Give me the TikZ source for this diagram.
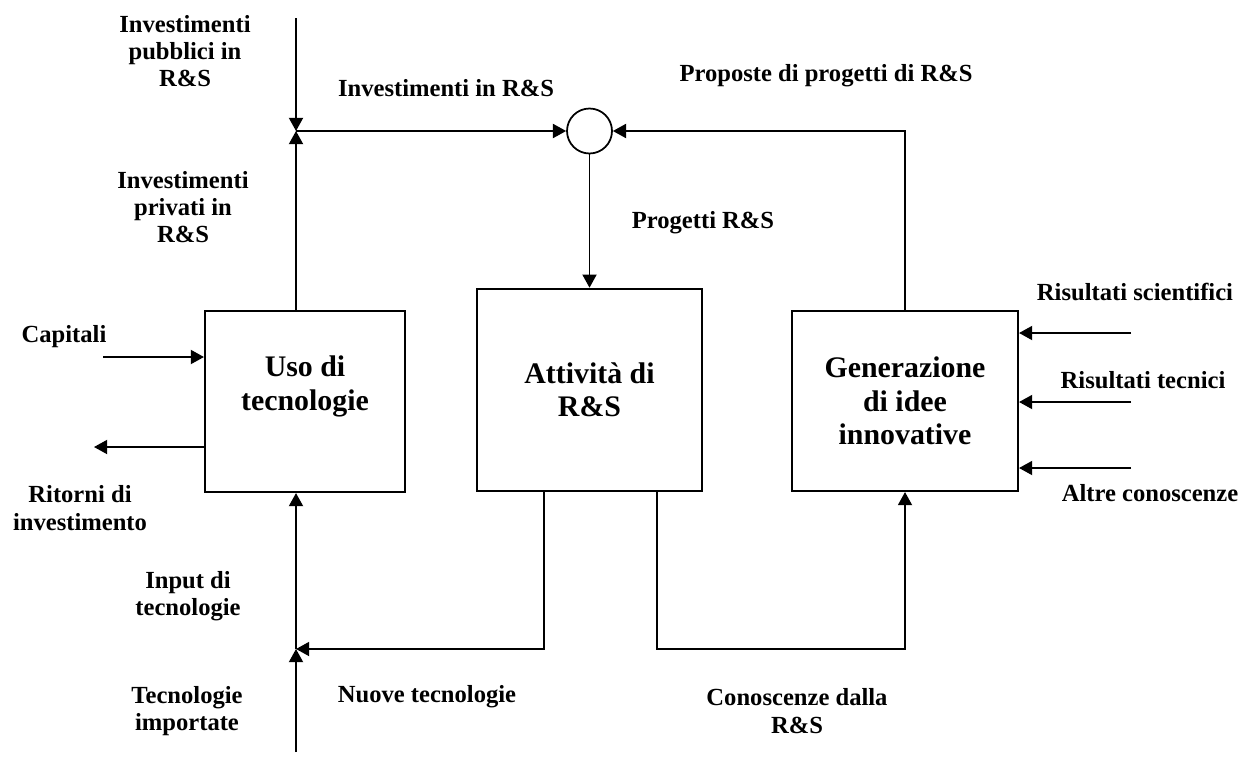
\documentclass[tikz,border=0pt]{standalone}
\usepackage{fontspec}
\setmainfont{Liberation Serif}
\usetikzlibrary{arrows.meta}

\tikzset{
  blocco/.style={draw, line width=1.2pt, align=center, inner sep=0pt,
    font=\bfseries\fontsize{17}{19}\selectfont},
  etich/.style={align=center, inner sep=0pt, font=\bfseries\fontsize{14}{15.5}\selectfont},
  freccia/.style={line width=1pt, -{Triangle[length=7.5pt,width=8pt]}}
}

\begin{document}
\begin{tikzpicture}[x=0.02cm,y=-0.02cm]
    \useasboundingbox (0,0) rectangle (1253,761);

    % blocchi
    \node[blocco, minimum width=4cm, minimum height=3.62cm] (uso) at (305,401.5) {};
    \node[blocco, draw=none] (tuso) at ([yshift=0.3cm]uso.center) {Uso di\\tecnologie};
    \node[blocco, line width=1.5pt, minimum width=4.5cm, minimum height=4.04cm] (rs) at (589.5,390) {Attività di\\R\&S};
    \node[blocco, minimum width=4.52cm, minimum height=3.6cm] (gen) at (905,401) {Generazione\\di idee\\innovative};
    \node[draw, circle, line width=1pt, minimum size=0.9cm, inner sep=0pt] (sum) at (589.5,131) {};

    % punti
    \coordinate (pub) at (296,18);
    \coordinate (j1) at (296,131);
    \coordinate (j2) at (296,649);
    \coordinate (imp) at (296,752);
    \coordinate (cap) at (103,357);
    \coordinate (ret) at (94,447);
    \coordinate (in1) at (1131,333);
    \coordinate (in2) at (1131,402);
    \coordinate (in3) at (1131,468);

    % collegamenti
    \draw[freccia] (pub) -- (j1);
    \draw[freccia] (j1 |- uso.north) -- (j1);
    \draw[freccia] (j1) -- (sum.west);
    \draw[freccia] (gen.north) |- (sum.east);
    \draw[freccia] (sum) -- (rs);
    \draw[freccia] (cap) -- (cap -| uso.west);
    \draw[freccia] (ret -| uso.west) -- (ret);
    \draw[freccia] (imp) -- (j2);
    \draw[freccia] (j2) -- (j2 |- uso.south);
    \draw[freccia] ([xshift=-0.91cm]rs.south) |- (j2);
    \draw[freccia] ([xshift=1.35cm]rs.south) |- (gen.south |- j2) -- (gen.south);
    \draw[freccia] (in1) -- (in1 -| gen.east);
    \draw[freccia] (in2) -- (in2 -| gen.east);
    \draw[freccia] (in3) -- (in3 -| gen.east);

    % etichette
    \node[etich] (lpub) at (185,51) {Investimenti\\pubblici in\\R\&S};
    \node[etich] (lpriv) at (183,207) {Investimenti\\privati in\\R\&S};
    \node[etich] (linv) at (446,88) {Investimenti in R\&S};
    \node[etich] (lprop) at (826,76) {Proposte di progetti di R\&S};
    \node[etich] (lprog) at (703,223) {Progetti R\&S};
    \node[etich] (lcap) at (64,337) {Capitali};
    \node[etich] (lret) at (80,508) {Ritorni di\\investimento};
    \node[etich] (linp) at (188,596) {Input di\\tecnologie};
    \node[etich] (limp) at (187,711) {Tecnologie\\importate};
    \node[etich] (lnuo) at (427,697) {Nuove tecnologie};
    \node[etich] (lcon) at (797,711) {Conoscenze dalla\\R\&S};
    \node[etich] (lin1) at (1135,292) {Risultati scientifici};
    \node[etich] (lin2) at (1143,380) {Risultati tecnici};
    \node[etich] (lin3) at (1150,493) {Altre conoscenze};
\end{tikzpicture}
\end{document}
